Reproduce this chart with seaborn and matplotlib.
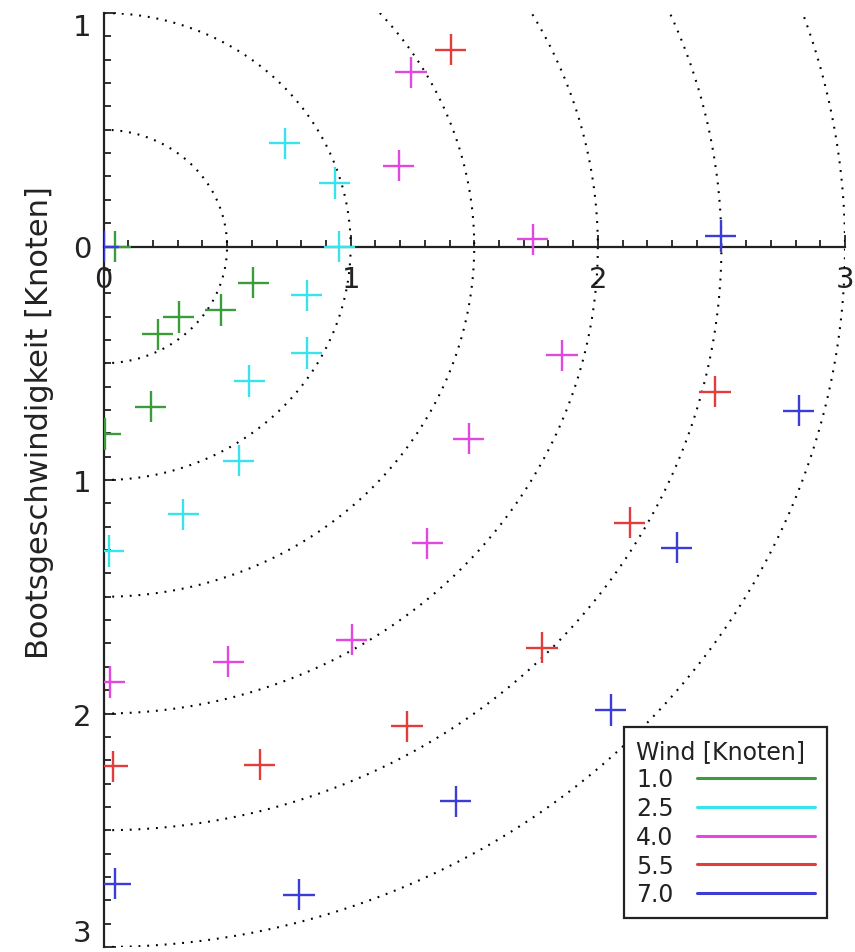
import numpy as np
import pandas as pd
import matplotlib
matplotlib.use("Agg")
import matplotlib.pyplot as plt
import seaborn as sns
from matplotlib.lines import Line2D
from matplotlib.ticker import MultipleLocator, FixedLocator, FixedFormatter

# ---------------- data ----------------
wind_levels = ["1.0", "2.5", "4.0", "5.5", "7.0"]
wind_colors = ["#3c9c3c", "#38e4ec", "#e048e0", "#e23c3c", "#3c3cd6"]

x_wind_1_0 = [0.047, 0.605, 0.475, 0.305, 0.220, 0.192, 0.006]
y_wind_1_0 = [0.000, -0.156, -0.272, -0.302, -0.375, -0.687, -0.803]

x_wind_2_5 = [0.734, 0.936, 0.953, 0.823, 0.823, 0.589, 0.548, 0.322, 0.022]
y_wind_2_5 = [0.443, 0.272, 0.000, -0.208, -0.456, -0.576, -0.918, -1.146, -1.304]

x_wind_4_0 = [1.244, 1.195, 1.737, 1.855, 1.478, 1.309, 1.005, 0.504, 0.026]
y_wind_4_0 = [0.747, 0.345, 0.030, -0.465, -0.824, -1.270, -1.685, -1.779, -1.865]

x_wind_5_5 = [1.405, 2.474, 2.130, 1.774, 1.228, 0.633, 0.038]
y_wind_5_5 = [0.842, -0.623, -1.184, -1.719, -2.054, -2.220, -2.225]

x_wind_7_0 = [0.000, 2.498, 2.813, 2.320, 2.053, 1.426, 0.791, 0.047]
y_wind_7_0 = [0.000, 0.045, -0.704, -1.291, -1.985, -2.375, -2.777, -2.730]

circle_radii = [0.5, 1.0, 1.5, 2.0, 2.5, 3.0]

x_ticks = [0, 1, 2, 3]
x_tick_labels = ["0", "1", "2", "3"]
y_ticks = [1, 0, -1, -2, -3]
y_tick_labels = ["1", "0", "1", "2", "3"]

y_label = "Bootsgeschwindigkeit [Knoten]"
legend_title = "Wind [Knoten]"

# ---------------- table ----------------
xs = [x_wind_1_0, x_wind_2_5, x_wind_4_0, x_wind_5_5, x_wind_7_0]
ys = [y_wind_1_0, y_wind_2_5, y_wind_4_0, y_wind_5_5, y_wind_7_0]
frames = []
for lvl, xv, yv in zip(wind_levels, xs, ys):
    frames.append(pd.DataFrame({"x": xv, "y": yv, "wind": lvl}))
df = pd.concat(frames, ignore_index=True)

# ---------------- figure ----------------
sns.set_style("white")
plt.rcParams["font.family"] = ["DejaVu Sans"]

fig = plt.figure(figsize=(8.55, 9.53), dpi=100)
ax = fig.add_axes([103.5 / 855, 5 / 953, 741.5 / 855, 934 / 953])

# dotted range circles
theta = np.linspace(-np.pi / 2, np.pi / 2, 600)
for r in circle_radii:
    ax.plot(r * np.cos(theta), r * np.sin(theta), color="black",
            linewidth=1.5, linestyle=(0, (0.9, 3.3)), zorder=1)

palette = dict(zip(wind_levels, wind_colors))
sns.scatterplot(data=df, x="x", y="y", hue="wind", palette=palette,
                marker="+", s=500, linewidth=1.7, legend=False, ax=ax,
                zorder=3)

ax.set_xlim(0, 3)
ax.set_ylim(-3, 1)

for side in ["top", "right"]:
    ax.spines[side].set_visible(False)
ax.spines["bottom"].set_position(("data", 0))
for side in ["left", "bottom"]:
    ax.spines[side].set_linewidth(1.6)
    ax.spines[side].set_color("#222222")
    ax.spines[side].set_zorder(2)

ax.xaxis.set_major_locator(FixedLocator(x_ticks))
ax.xaxis.set_major_formatter(FixedFormatter(x_tick_labels))
ax.xaxis.set_minor_locator(MultipleLocator(0.1))
ax.yaxis.set_major_locator(FixedLocator(y_ticks))
ax.yaxis.set_major_formatter(FixedFormatter(y_tick_labels))
ax.yaxis.set_minor_locator(MultipleLocator(0.1))

ax.tick_params(which="both", direction="in", color="#222222", width=1.3,
               labelsize=21, labelcolor="#222222",
               bottom=True, left=True, top=False, right=False)
ax.tick_params(which="major", length=8.5)
ax.tick_params(which="minor", length=5)
ax.tick_params(axis="x", which="major", pad=13)
ax.tick_params(axis="y", which="major", pad=9)

# keep the outermost y labels inside the figure, as in the reference
ylabels = ax.get_yticklabels()
ylabels[0].set_verticalalignment("top")
ylabels[-1].set_verticalalignment("bottom")

ax.set_xlabel("")
ax.set_ylabel(y_label, fontsize=22, color="#222222")
ax.yaxis.set_label_coords(-0.0667, 0.563)

handles = [Line2D([0], [0], color=c, linewidth=2.2) for c in wind_colors]
leg = ax.legend(handles, wind_levels, title=legend_title, loc="lower right",
                bbox_to_anchor=(0.9757, 0.031), borderaxespad=0,
                fontsize=17, title_fontsize=17, markerfirst=False,
                handlelength=5.0, handletextpad=1.0, labelspacing=0.2,
                borderpad=0.5, fancybox=False, framealpha=1,
                edgecolor="#222222", alignment="left")
leg.get_frame().set_linewidth(1.6)
for t in leg.get_texts():
    t.set_color("#222222")
leg.get_title().set_color("#222222")

fig.savefig("out.png", dpi=100, facecolor="white")
